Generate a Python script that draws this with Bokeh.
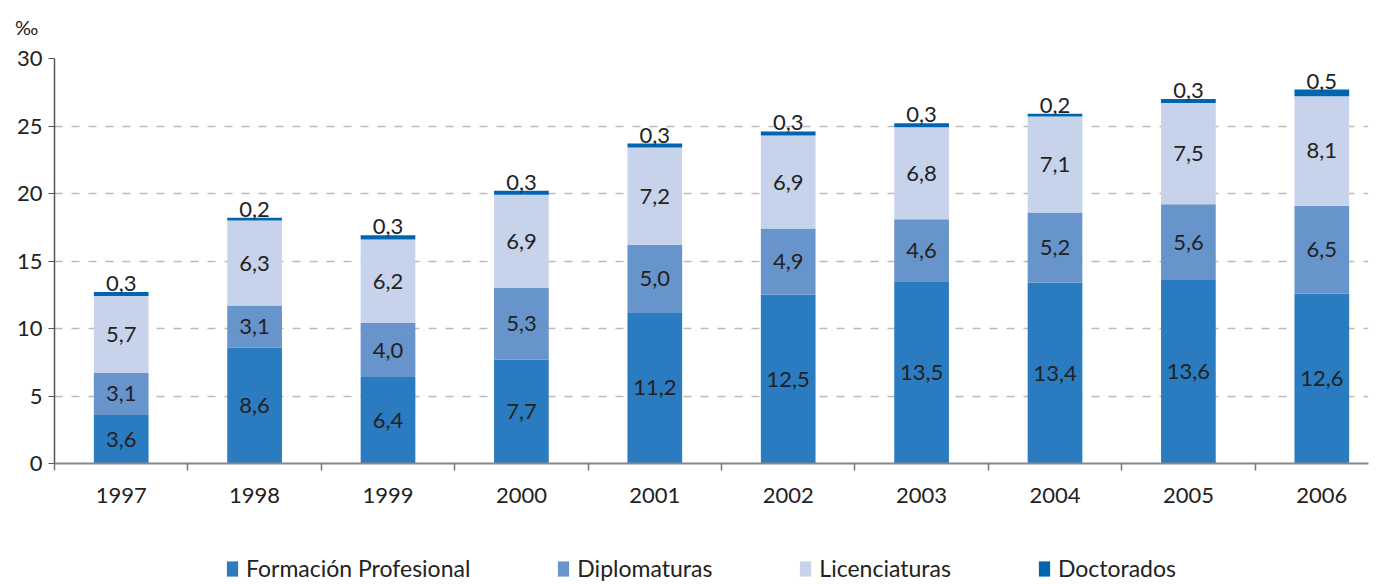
from bokeh.plotting import figure
from bokeh.layouts import column
from bokeh.models import (ColumnDataSource, Range1d, FixedTicker, Legend, LegendItem,
                          SingleIntervalTicker, Div)
from bokeh.core.properties import value
from bokeh.embed import file_html
from bokeh.resources import INLINE

years = ["1997", "1998", "1999", "2000", "2001", "2002", "2003", "2004", "2005", "2006"]
formacion = [3.6, 8.6, 6.4, 7.7, 11.2, 12.5, 13.5, 13.4, 13.6, 12.6]
diplomaturas = [3.1, 3.1, 4.0, 5.3, 5.0, 4.9, 4.6, 5.2, 5.6, 6.5]
licenciaturas = [5.7, 6.3, 6.2, 6.9, 7.2, 6.9, 6.8, 7.1, 7.5, 8.1]
doctorados = [0.3, 0.2, 0.3, 0.3, 0.3, 0.3, 0.3, 0.2, 0.3, 0.5]
series_names = ["Formación Profesional", "Diplomaturas", "Licenciaturas", "Doctorados"]
colors = ["#2a7bc0", "#6894cc", "#c6d3ea", "#0065b0"]
unit_label = "‰"

FONT = "Lato"
TXT = "#222222"

idx = list(range(len(years)))
keys = ["fp", "dip", "lic", "doc"]
data = dict(x=idx, fp=formacion, dip=diplomaturas, lic=licenciaturas, doc=doctorados)

fmt = lambda v: f"{v:.1f}".replace(".", ",")

# label positions
lab_x, lab_y, lab_t = [], [], []
for i in idx:
    base = 0.0
    for arr in (formacion, diplomaturas, licenciaturas):
        lab_x.append(i)
        lab_y.append(base + arr[i] / 2)
        lab_t.append(fmt(arr[i]))
        base += arr[i]
top_x = idx
top_y = [formacion[i] + diplomaturas[i] + licenciaturas[i] + doctorados[i] for i in idx]
top_t = [fmt(v) for v in doctorados]

head = Div(text=unit_label, width=1366, height=32,
           styles={"font-family": FONT, "font-size": "20px", "color": TXT,
                   "padding-left": "10px", "padding-top": "12px", "line-height": "1"})

p = figure(width=1376, height=488, output_backend="svg", toolbar_location=None,
           x_range=Range1d(-0.5, len(years) - 0.65), y_range=Range1d(0, 30),
           min_border_left=54, min_border_right=8, min_border_top=16, min_border_bottom=67)
p.outline_line_color = None
p.background_fill_color = "white"

src = ColumnDataSource(data)
rs = p.vbar_stack(keys, x="x", width=0.41, source=src, color=colors, line_color=None)

p.text(x=lab_x, y=lab_y, text=lab_t, text_align="center", text_baseline="middle",
       text_font=value(FONT), text_font_size="22px", text_color=TXT)
p.text(x=top_x, y=top_y, text=top_t, text_align="center", text_baseline="bottom",
       y_offset=-1, text_font=value(FONT), text_font_size="22px", text_color=TXT)

# y axis
p.yaxis.ticker = SingleIntervalTicker(interval=5)
p.yaxis.axis_line_color = "#555555"
p.yaxis.axis_line_width = 1.5
p.yaxis.major_tick_line_color = "#555555"
p.yaxis.major_tick_out = 6
p.yaxis.major_tick_in = 0
p.yaxis.minor_tick_line_color = None
p.yaxis.major_label_text_font = FONT
p.yaxis.major_label_text_font_size = "22px"
p.yaxis.major_label_text_color = TXT
p.yaxis.major_label_standoff = 6

# x axis
p.xaxis.ticker = FixedTicker(ticks=idx, minor_ticks=[i - 0.5 for i in idx])
p.xaxis.major_label_overrides = {i: y for i, y in zip(idx, years)}
p.xaxis.major_tick_line_color = None
p.xaxis.minor_tick_line_color = "#777777"
p.xaxis.minor_tick_line_width = 1.5
p.xaxis.minor_tick_out = 7
p.xaxis.minor_tick_in = 0
p.xaxis.axis_line_color = "#888888"
p.xaxis.axis_line_width = 2
p.xaxis.major_label_text_font = FONT
p.xaxis.major_label_text_font_size = "22px"
p.xaxis.major_label_text_color = TXT
p.xaxis.major_label_standoff = 17

p.xgrid.grid_line_color = None
p.ygrid.grid_line_color = "#bbbbbb"
p.ygrid.grid_line_width = 1.5
p.ygrid.grid_line_dash = "8 9"

# legend strip (separate figure, swatches in the series colours)
lg = figure(width=1376, height=52, output_backend="svg", toolbar_location=None,
            x_range=Range1d(0, 1), y_range=Range1d(0, 1),
            x_axis_location=None, y_axis_location=None,
            min_border_left=0, min_border_right=0, min_border_top=0, min_border_bottom=0)
lg.grid.visible = False
lg.outline_line_color = None
lrs = [lg.vbar(x=[0.5], bottom=[0], top=[0], width=0.01, color=c, line_color=None) for c in colors]
legend = Legend(items=[LegendItem(label=n, renderers=[r]) for n, r in zip(series_names, lrs)],
                orientation="horizontal", location=(171, 0), spacing=86,
                glyph_width=14, glyph_height=19, label_standoff=7,
                label_text_font=FONT, label_text_font_size="23px", label_text_color=TXT,
                border_line_color=None, background_fill_alpha=0, margin=0, padding=0)
lg.add_layout(legend, "center")

layout = column(head, p, lg, spacing=0)
open("out.html", "w").write(file_html(layout, INLINE))
